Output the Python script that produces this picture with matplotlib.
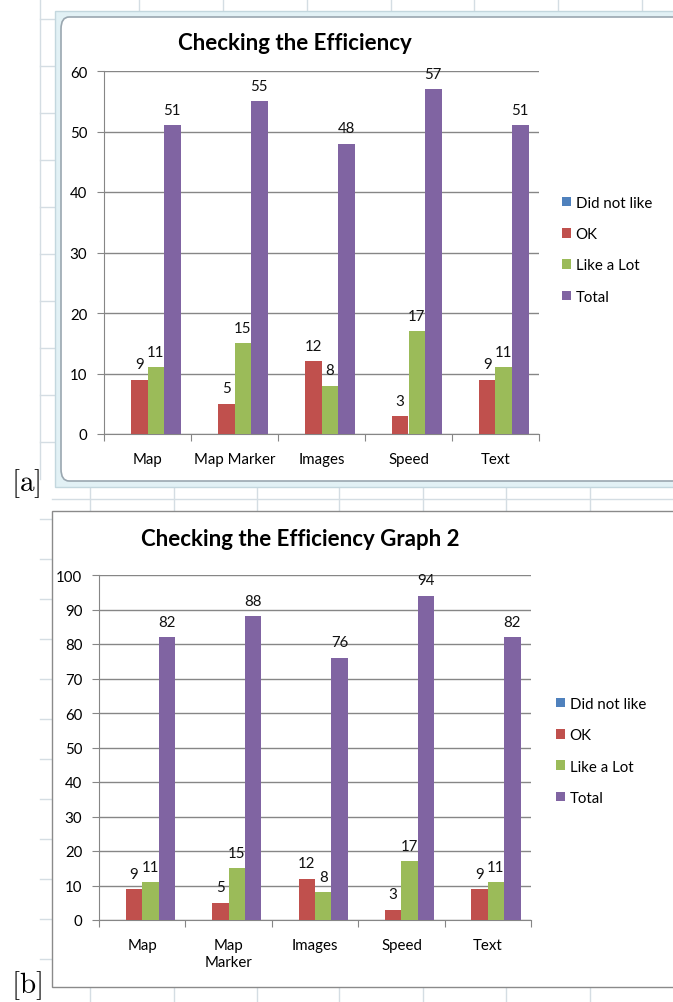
import numpy as np
import matplotlib.pyplot as plt
from matplotlib.patches import FancyBboxPatch, Rectangle
from matplotlib.lines import Line2D

W, H = 673, 1003

# DATA
categories_a = ["Map", "Map Marker", "Images", "Speed", "Text"]
categories_b = ["Map", "Map\nMarker", "Images", "Speed", "Text"]
series_names = ["Did not like", "OK", "Like a Lot", "Total"]
did_not_like = [0, 0, 0, 0, 0]
ok = [9, 5, 12, 3, 9]
like_a_lot = [11, 15, 8, 17, 11]
total_a = [51, 55, 48, 57, 51]
total_b = [82, 88, 76, 94, 82]
title_a = "Checking the Efficiency"
title_b = "Checking the Efficiency Graph 2"

COLORS = ["#4F81BD", "#C0504D", "#9BBB59", "#8064A2"]
GRID = "#868686"
SHEET = "#d4dde3"
FONT = "Lato"
FS = 10.8
plt.rcParams["mathtext.fontset"] = "cm"


def rect(x0, y0, x1, y1):
    # pixel box -> figure fraction [left, bottom, width, height]
    return [x0 / W, 1 - y1 / H, (x1 - x0) / W, (y1 - y0) / H]


def fline(fig, xs, ys, **kw):
    fig.add_artist(Line2D([x / W for x in xs], [1 - y / H for y in ys],
                          transform=fig.transFigure, zorder=-10, **kw))


def draw_chart(ax, cats, series, ymax, step):
    x = np.arange(len(cats))
    w = 0.19
    bars = []
    for i, (vals, name) in enumerate(zip(series, series_names)):
        b = ax.bar(x + (i - 1.5) * w, vals, w, color=COLORS[i], label=name,
                   zorder=3, linewidth=0)
        bars.append(b)
        if i > 0:
            ax.bar_label(b, padding=6, fontsize=FS, family=FONT, color="#111111")
    ax.set_xlim(-0.5, len(cats) - 0.5)
    ax.set_ylim(0, ymax)
    ax.set_yticks(np.arange(0, ymax + 1, step))
    ax.yaxis.grid(True, color=GRID, linewidth=1.0, zorder=0)
    ax.set_xticks(np.arange(-0.5, len(cats), 1.0))
    ax.set_xticklabels([])
    ax.set_xticks(x, minor=True)
    ax.set_xticklabels(cats, minor=True, family=FONT, fontsize=FS)
    ax.tick_params(axis="x", which="minor", length=0, pad=13)
    ax.tick_params(axis="x", which="major", length=5, color=GRID, direction="out")
    ax.tick_params(axis="y", length=5, color=GRID, direction="out", pad=7,
                   labelsize=FS)
    for lab in ax.get_yticklabels():
        lab.set_family(FONT)
    for s in ["top", "right"]:
        ax.spines[s].set_visible(False)
    for s in ["left", "bottom"]:
        ax.spines[s].set_color(GRID)
    ax.set_facecolor("none")
    return bars


fig = plt.figure(figsize=(W / 100, H / 100), dpi=100)
fig.patch.set_facecolor("white")

# spreadsheet background lines
for xc in [139, 223, 307, 391, 474, 558, 642]:
    fline(fig, [xc, xc], [0, 12], color=SHEET, lw=1)
for xc in [90, 174, 257, 339, 423, 506, 590]:
    fline(fig, [xc, xc], [488, 512], color=SHEET, lw=1)
    fline(fig, [xc, xc], [989, 1003], color=SHEET, lw=1)
fline(fig, [52, 673], [500, 500], color=SHEET, lw=1)
for yr in range(20, 480, 47):
    fline(fig, [40, 55], [yr, yr], color=SHEET, lw=1)
for yr in range(520, 990, 40):
    fline(fig, [40, 52], [yr, yr], color=SHEET, lw=1)
fline(fig, [40, 40], [0, 480], color=SHEET, lw=1)

# frame of panel a: cyan band + rounded white box
fig.add_artist(Rectangle((55 / W, 1 - 488 / H), 700 / W, 476 / H,
                         transform=fig.transFigure, facecolor="#e2f1f5",
                         edgecolor="#c3d7de", lw=1, zorder=-9))
fig.add_artist(FancyBboxPatch((61 / W, 1 - 482 / H), 700 / W, 464 / H,
                              boxstyle="round,pad=0,rounding_size=0.012",
                              transform=fig.transFigure, facecolor="white",
                              edgecolor="#9aa7b0", lw=1.2, zorder=-8))
# frame of panel b
fig.add_artist(Rectangle((52 / W, 1 - 988 / H), 700 / W, 476 / H,
                         transform=fig.transFigure, facecolor="white",
                         edgecolor="#8a8a8a", lw=1, zorder=-8))

legend_kw = dict(bbox_transform=fig.transFigure, frameon=False, loc="upper left",
                 prop={"family": FONT, "size": FS}, handlelength=0.6,
                 handleheight=0.6, handletextpad=0.3, labelspacing=1.15,
                 borderaxespad=0, borderpad=0)

# panel a
ax_a = fig.add_axes(rect(104, 72, 539, 435))
bars_a = draw_chart(ax_a, categories_a, [did_not_like, ok, like_a_lot, total_a], 60, 10)
fig.text(295 / W, 1 - 43 / H, title_a, ha="center", va="center", family=FONT,
         fontweight="bold", fontsize=16)
ax_a.legend(bbox_to_anchor=(562 / W, 1 - 197 / H), **legend_kw)

# panel b
ax_b = fig.add_axes(rect(99, 576, 531, 921))
bars_b = draw_chart(ax_b, categories_b, [did_not_like, ok, like_a_lot, total_b], 100, 10)
fig.text(300 / W, 1 - 540 / H, title_b, ha="center", va="center", family=FONT,
         fontweight="bold", fontsize=16)
ax_b.legend(bbox_to_anchor=(556 / W, 1 - 698 / H), **legend_kw)
for lab in ax_b.get_xticklabels(minor=True):
    lab.set_verticalalignment("top")
    lab.set_linespacing(1.25)

# panel tags
fig.text(26 / W, 1 - 484 / H, r"$[\mathrm{a}]$", ha="center", va="center", fontsize=21)
fig.text(26 / W, 1 - 986 / H, r"$[\mathrm{b}]$", ha="center", va="center", fontsize=21)

fig.savefig("out.png", dpi=100)
